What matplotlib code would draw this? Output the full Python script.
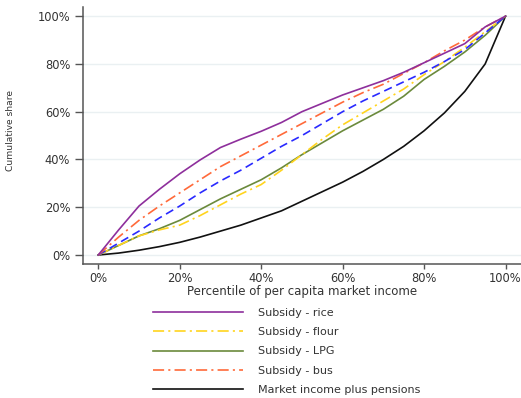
import matplotlib
matplotlib.use("Agg")
import matplotlib.pyplot as plt
from matplotlib.ticker import FuncFormatter

# Percentile of per capita market income (%)
pct = [0, 5, 10, 15, 20, 25, 30, 35, 40, 45, 50, 55, 60, 65, 70, 75, 80, 85, 90, 95, 100]

# Cumulative shares (%)
rice = [0, 10.5, 20.5, 27.5, 34, 39.8, 45, 48.5, 51.8, 55.5, 60, 63.5, 67, 70, 73, 76.5,
        80.5, 84.5, 88.5, 95.5, 100]
flour = [0, 4, 8, 10.5, 12.5, 16.5, 21, 25.5, 29.5, 35.5, 42, 48.5, 54.5, 59.5, 64.5, 69.5,
         75.5, 81, 87, 93.5, 100]
lpg = [0, 4, 8, 11, 14.5, 19, 23.5, 27.5, 31.5, 36.5, 42, 47, 52, 56.5, 61, 66.5,
       73.5, 79, 85, 92, 100]
bus = [0, 7.5, 14.5, 20.5, 26, 31.5, 37, 41.5, 46, 50.5, 55, 59.5, 64, 68, 71.5, 76,
       80.5, 85.5, 90, 95.5, 100]
total = [0, 5, 10, 15.5, 20.5, 26, 31, 35.5, 40.5, 45.5, 50, 55, 60, 64.5, 68.5, 72.5,
         76.5, 81, 86, 93, 100]
market = [0, 0.8, 2, 3.5, 5.3, 7.5, 10, 12.5, 15.5, 18.5, 22.5, 26.5, 30.5, 35, 40, 45.5,
          52, 59.5, 68.5, 80, 100]

labels = ["Subsidy - rice", "Subsidy - flour", "Subsidy - LPG", "Subsidy - bus",
          "Market income plus pensions"]
ticks = [0, 20, 40, 60, 80, 100]

plt.rcParams["lines.scale_dashes"] = False
plt.rcParams["font.family"] = ["DejaVu Sans"]

fig = plt.figure(figsize=(5.21, 3.98), dpi=100)
ax = fig.add_axes([0.1587, 0.3367, 0.8413, 0.6453])

lw = 1.2
dashdot = (0, (8, 3, 1.5, 3))
l_market, = ax.plot(pct, market, color="#111111", lw=lw, label=labels[4])
l_lpg, = ax.plot(pct, lpg, color="#6B8A3C", lw=lw, label=labels[2])
l_flour, = ax.plot(pct, flour, color="#FFD41E", lw=lw, ls=dashdot, label=labels[1])
ax.plot(pct, total, color="#2A2AFF", lw=lw, ls=(0, (6, 3.5)), label="_nolegend_")
l_bus, = ax.plot(pct, bus, color="#FF6A3A", lw=lw, ls=dashdot, label=labels[3])
l_rice, = ax.plot(pct, rice, color="#8E2F9C", lw=lw, label=labels[0])

ax.set_xlim(-3.83, 103.8)
ax.set_ylim(-3.77, 103.77)
ax.set_xticks(ticks)
ax.set_yticks(ticks)
fmt = FuncFormatter(lambda v, p: f"{v:.0f}%")
ax.xaxis.set_major_formatter(fmt)
ax.yaxis.set_major_formatter(fmt)
ax.tick_params(axis="both", direction="out", width=1.0, color="#555555",
               labelsize=8.3, labelcolor="#333333")
ax.tick_params(axis="x", length=3.6, pad=2.0)
ax.tick_params(axis="y", length=6, pad=3)
ax.grid(axis="y", color="#EAF0F2", lw=1.0)
ax.set_axisbelow(True)
for s in ("top", "right"):
    ax.spines[s].set_visible(False)
for s in ("left", "bottom"):
    ax.spines[s].set_color("#555555")
    ax.spines[s].set_linewidth(1.1)

ax.set_xlabel("Percentile of per capita market income", fontsize=8.5, color="#333333")
ax.xaxis.set_label_coords(0.5, -0.08)
ax.set_ylabel("Cumulative share", fontsize=6.6, color="#333333",
              family=["Liberation Sans Narrow", "DejaVu Sans"])
ax.yaxis.set_label_coords(-0.1545, 0.519)

ax.legend([l_rice, l_flour, l_lpg, l_bus, l_market], labels,
          loc="upper left", bbox_to_anchor=(152.7 / 521, 1 - 307.5 / 398),
          bbox_transform=fig.transFigure, frameon=False, fontsize=8,
          handlelength=8.1, handletextpad=1.35, labelspacing=0.85,
          borderpad=0, borderaxespad=0, labelcolor="#333333")

fig.savefig("out.png", dpi=100)
